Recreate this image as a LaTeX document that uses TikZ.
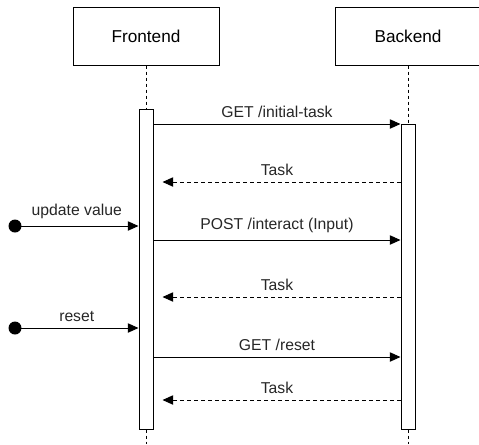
\documentclass[tikz,border=0pt]{standalone}
\usepackage{fontspec}
\setmainfont{Liberation Sans}
\usetikzlibrary{arrows.meta}

\begin{document}
\begin{tikzpicture}[x = 0.75pt, y = -0.75pt, line width = 0.75pt,
        lifebox/.style = {draw, minimum width = 109.5pt, minimum height = 43.5pt, font = \fontsize{12.9}{15}\selectfont},
        bar/.style = {draw, fill = white, minimum width = 10.5pt, inner sep = 0pt},
        lifeline/.style = {dash pattern = on 2.25pt off 2.25pt},
        msg/.style = {-{Triangle[length = 8pt, width = 7pt]}},
        reply/.style = {msg, dash pattern = on 3pt off 2.25pt, shorten > = 6.75pt},
        msglabel/.style = {midway, above, inner sep = 4.75pt, text = black!85, font = \fontsize{11.8}{14}\selectfont},
        dot/.style = {circle, fill = black, minimum size = 9.75pt, inner sep = 0pt}]
    \useasboundingbox (0,0) rectangle (479,444);

    % Draw the participants and their activation bars:
    \node [lifebox] (Frontend) at (146,36) {Frontend};
    \node [lifebox] (Backend)  at (408,36) {Backend};
    \node [bar, minimum height = 240pt]    (FrontBar) at (146,269)   {};
    \node [bar, minimum height = 228.75pt] (BackBar)  at (408,276.5) {};
    \coordinate (FrontEnd) at (146,444);
    \coordinate (BackEnd)  at (408,444);

    % Draw the lifelines:
    \draw [lifeline] (Frontend) -- (FrontBar);
    \draw [lifeline] (FrontBar) -- (FrontEnd);
    \draw [lifeline] (Backend) -- (BackBar);
    \draw [lifeline] (BackBar) -- (BackEnd);

    % Draw the requests and the replies:
    \foreach \y/\txt in {124/{GET /initial-task}, 240/{POST /interact (Input)}, 357/{GET /reset}}
        \draw [msg] (FrontBar.east |- 0,\y) -- (BackBar.west |- 0,\y)
            node [msglabel] {\txt};
    \foreach \y in {182, 297, 400}
        \draw [reply] (BackBar.west |- 0,\y) -- (FrontBar.east |- 0,\y)
            node [msglabel] {Task};

    % Draw the user events:
    \node [dot] (Update) at (15,226) {};
    \node [dot] (Reset)  at (15,328) {};
    \draw [msg] (Update.center) -- (FrontBar.west |- Update)
        node [msglabel] {update value};
    \draw [msg] (Reset.center) -- (FrontBar.west |- Reset)
        node [msglabel] {reset};
\end{tikzpicture}
\end{document}
